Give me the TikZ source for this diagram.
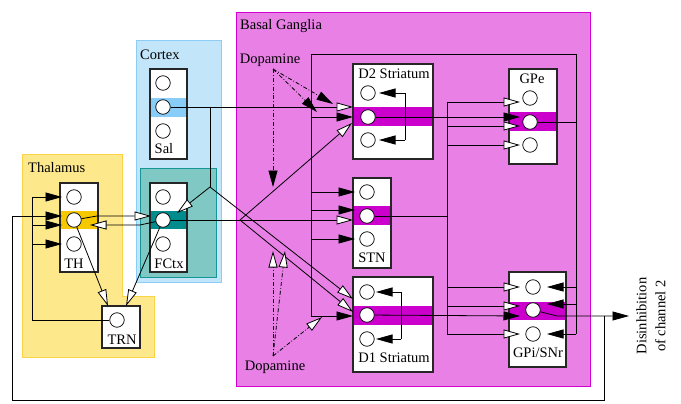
\documentclass[tikz,border=0pt]{standalone}
\usepackage{fontspec}
\setmainfont{Liberation Serif}
\usetikzlibrary{arrows.meta}
\definecolor{bgfill}{RGB}{232,128,230}
\definecolor{bgline}{RGB}{210,0,210}
\definecolor{thfill}{RGB}{253,233,140}
\definecolor{thline}{RGB}{248,212,70}
\definecolor{ctxfill}{RGB}{194,229,250}
\definecolor{ctxline}{RGB}{140,205,248}
\definecolor{fcfill}{RGB}{128,200,196}
\definecolor{fcline}{RGB}{20,150,150}
\definecolor{thband}{RGB}{245,200,0}
\definecolor{salband}{RGB}{136,204,248}
\definecolor{fcband}{RGB}{0,140,140}
\definecolor{bgband}{RGB}{204,0,204}
\newcommand{\mkcell}[8]{%
  \node[cellfill, minimum width={(#4-#2)*1pt}, minimum height={(#5-#3)*1pt}] (#1) at ({(#2+#4)/2},{(#3+#5)/2}) {};
  \fill[#8] (#2,#6) rectangle (#4,#7);
  \draw[cellline] (#2,#3) rectangle (#4,#5);
}
\begin{document}
\begin{tikzpicture}[x=1pt,y=-1pt,
  cellfill/.style={fill=white, inner sep=0, outer sep=0},
  cellline/.style={draw=black!85, line width=1.1pt},
  neuron/.style={circle, draw=black, line width=0.7pt, fill=white, minimum size=14.5pt, inner sep=0},
  lbl/.style={font=\fontsize{14.5pt}{18pt}\selectfont, inner sep=0},
  wire/.style={line width=0.8pt},
  inh/.style={wire, -{Triangle[length=16.5pt,width=9pt]}},
  exc/.style={wire, -{Triangle[length=16.5pt,width=9pt,fill=white]}},
  dopa/.style={wire, dash pattern=on 4pt off 2pt on 0.8pt off 2pt},
]
\useasboundingbox (0,0) rectangle (681,404);
\fill[white] (0,0) rectangle (681,404);
% regions
\filldraw[fill=bgfill, draw=bgline, line width=1pt] (236,13) rectangle (590,386);
\filldraw[fill=thfill, draw=thline, line width=1pt] (22,154) -- (122,154) -- (122,296) -- (154,296) -- (154,357) -- (22,357) -- cycle;
\filldraw[fill=ctxfill, draw=ctxline, line width=1pt] (136,41) rectangle (221,282);
\filldraw[fill=fcfill, draw=fcline, line width=1pt] (140,168) rectangle (216,277);
\node[lbl, anchor=west] (bglbl) at (240,26) {Basal Ganglia};
\node[lbl, anchor=west] (ctxlbl) at (140,55) {Cortex};
\node[lbl, anchor=west] (thlbl) at (28,168) {Thalamus};
% cells
\mkcell{THb}{60}{183}{98}{272}{211}{229}{thband}
\mkcell{TRNb}{102}{306}{140}{348}{0}{0}{white}
\mkcell{SALb}{150}{69}{187}{159}{98}{117}{salband}
\mkcell{FCb}{150}{183}{187}{272}{211}{229}{fcband}
\mkcell{D2b}{353}{64}{433}{159}{107}{126}{bgband}
\mkcell{STNb}{353}{178}{391}{268}{206}{225}{bgband}
\mkcell{D1b}{353}{277}{433}{372}{306}{325}{bgband}
\mkcell{GPEb}{509}{69}{557}{164}{112}{131}{bgband}
\mkcell{GPIb}{509}{272}{566}{367}{302}{320}{bgband}
% labels
\node[lbl] (thl) at (74,264) {TH};
\node[lbl] (trnl) at (122,340) {TRN};
\node[lbl] (sall) at (164,148.5) {Sal};
\node[lbl] (fcl) at (169,264) {FCtx};
\node[lbl] (d2l) at (394,74) {D2 Striatum};
\node[lbl] (stnl) at (372,258) {STN};
\node[lbl] (d1l) at (394,357.5) {D1 Striatum};
\node[lbl] (gpel) at (532,79) {GPe};
\node[lbl] (gpil) at (538,353) {GPi/SNr};
\node[lbl] (dopaA) at (270,60) {Dopamine};
\node[lbl] (dopaB) at (275,367.5) {Dopamine};
\node[lbl, rotate=90, align=center, font=\fontsize{14.5pt}{19pt}\selectfont] (disl) at (651,316) {Disinhibition\\of channel 2};
% neurons
\foreach \n/\y in {1/197,2/220,3/244} {
  \node[neuron] (th\n) at (74,\y) {};
  \node[neuron] (fc\n) at (163,\y) {};
}
\foreach \n/\y in {1/83,2/107,3/131} \node[neuron] (sal\n) at (163,\y) {};
\node[neuron] (trn) at (117,320) {};
\foreach \n/\y in {1/93,2/117,3/140} \node[neuron] (dd\n) at (368,\y) {};
\foreach \n/\y in {1/192,2/216,3/239} \node[neuron] (stn\n) at (367,\y) {};
\foreach \n/\y in {1/292,2/315,3/339} \node[neuron] (ds\n) at (367,\y) {};
\foreach \n/\y in {1/98,2/122,3/145} \node[neuron] (gpe\n) at (530,\y) {};
\foreach \n/\y in {1/287,2/310,3/334} \node[neuron] (gpi\n) at (533,\y) {};
% junction coordinates
\coordinate (salj) at (210,107);
\coordinate (salk) at (210,187);
\coordinate (fcj) at (240,220);
\coordinate (daA) at (273,69);
\coordinate (daB) at (273,356);
\coordinate (outj) at (604,316);
% thalamus / cortex wiring
\draw[wire] (trn) -- (32,320) -- (32,197);
\draw[inh] (32,197) -- (62,197);
\draw[inh] (32,225) -- (62,225);
\draw[inh] (32,244) -- (62,244);
\draw[exc] (th2) -- (97,216) -- (151,216);
\draw[exc] (fc2) -- (140,225) -- (90,225);
\draw[exc] (th2) -- (108,306);
\draw[exc] (fc2) -- (126,306);
\draw[wire] (sal2) -- (salj) -- (salk);
\draw[exc] (salj) -- (353,107);
\draw[exc] (salk) -- (177,213);
\draw[exc] (salk) -- (353,299);
\draw[exc] (fc2) -- (353,220);
\draw[exc] (fcj) -- (352,123);
\draw[exc] (fcj) -- (353,312);
% dopamine
\draw[dopa, -{Triangle[length=16.5pt,width=9pt]}] (daA) -- (333,104);
\draw[dopa, -{Triangle[length=16.5pt,width=9pt]}] (daA) -- (317,112);
\draw[dopa, -{Triangle[length=16.5pt,width=9pt]}] (daA) -- (273,187);
\draw[dopa, -{Triangle[length=16.5pt,width=9pt,fill=white]}] (daB) -- (273,251);
\draw[dopa, -{Triangle[length=16.5pt,width=9pt,fill=white]}] (daB) -- (285,251);
\draw[dopa, -{Triangle[length=16.5pt,width=9pt,fill=white]}] (daB) -- (322,317);
% GPe feedback loop
\draw[wire] (gpe2) -- (576,122);
\draw[wire] (311,316) -- (311,54) -- (576,54) -- (576,334);
\draw[inh] (311,117) -- (353,117);
\draw[inh] (311,192) -- (355,192);
\draw[inh] (311,210) -- (355,210);
\draw[inh] (311,239) -- (355,239);
\draw[inh] (311,316) -- (353,316);
\draw[inh] (576,287) -- (547,287);
\draw[inh] (576,304) -- (547,304);
\draw[inh] (576,334) -- (547,334);
% STN output
\draw[wire] (stn2) -- (447,216);
\draw[wire] (447,102) -- (447,334);
\foreach \y in {102,126,145,287,306,334} \draw[exc] (447,\y) -- (520,\y);
% striatal outputs
\draw[inh] (dd2) -- (520,117);
\draw[inh] (ds2) -- (520,316);
\draw[wire] (405,93) -- (405,140);
\draw[inh] (405,93) -- (379,93);
\draw[inh] (405,140) -- (379,140);
\draw[wire] (401,292) -- (401,339);
\draw[inh] (401,292) -- (376,292);
\draw[inh] (401,339) -- (376,339);
% GPi output
\draw[inh] (gpi2) -- (557,316) -- (629,316);
\draw[inh] (outj) -- (604,400) -- (12,400) -- (12,216) -- (62,216);
\end{tikzpicture}
\end{document}
